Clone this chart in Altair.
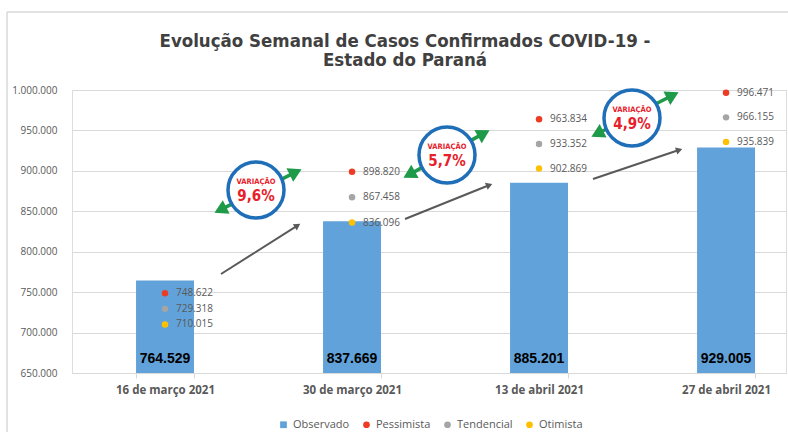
import math
import altair as alt
import pandas as pd

# ---------------- data ----------------
categories = ["16 de março 2021", "30 de março 2021", "13 de abril 2021", "27 de abril 2021"]
observado = [764529, 837669, 885201, 929005]
pessimista = [748622, 898820, 963834, 996471]
tendencial = [729318, 867458, 933352, 966155]
otimista = [710015, 836096, 902869, 935839]
variacao = ["9,6%", "5,7%", "4,9%"]
series_names = ["Observado", "Pessimista", "Tendencial", "Otimista"]
series_colors = ["#62A2DA", "#EE3B24", "#A5A5A5", "#FFC000"]
series_shapes = ["square", "circle", "circle", "circle"]
y_ticks = [650000, 700000, 750000, 800000, 850000, 900000, 950000, 1000000]


def fmt(v):
    return f"{v:,}".replace(",", ".")


bars_df = pd.DataFrame({
    "cat": categories,
    "value": observado,
    "serie": ["Observado"] * len(categories),
    "label": [fmt(v) for v in observado],
})
rows = []
for name, vals in [("Pessimista", pessimista), ("Tendencial", tendencial), ("Otimista", otimista)]:
    for c, v in zip(categories, vals):
        rows.append({"cat": c, "value": v, "serie": name, "label": fmt(v)})
pts_df = pd.DataFrame(rows)

# ---------------- layout ----------------
OX, OY = 72, 90          # plot origin in page pixels
W, H = 714, 283

x_enc = alt.X(
    "cat:N", sort=categories, title=None,
    scale=alt.Scale(paddingInner=0.69, paddingOuter=0.254, align=0.674),
    axis=alt.Axis(labelAngle=0, labelFont="Open Sans", labelFontWeight="bold",
                  labelFontSize=11.5, labelColor="#595959", domainColor="#D9D9D9",
                  tickColor="#D9D9D9", tickSize=5, tickBand="extent", labelPadding=6,
                  grid=False),
)
y_enc = alt.Y(
    "value:Q", title=None,
    scale=alt.Scale(domain=[650000, 1000000], zero=False, nice=False),
    axis=alt.Axis(values=y_ticks, grid=True, gridColor="#D9D9D9", domain=False,
                  ticks=False, labelFont="Open Sans", labelFontSize=10,
                  labelColor="#595959", labelPadding=15,
                  labelExpr="replace(format(datum.value, ',d'), regexp(',', 'g'), '.')"),
)


def legend():
    return alt.Legend(
        orient="none", legendX=206, legendY=329, direction="horizontal",
        symbolSize=45, labelFont="Open Sans", labelFontSize=11,
        labelColor="#595959", columnPadding=11, labelOffset=4, padding=0,
    )


color_enc = alt.Color(
    "serie:N", title=None,
    scale=alt.Scale(domain=series_names, range=series_colors),
    legend=legend(),
)
shape_enc = alt.Shape(
    "serie:N", title=None,
    scale=alt.Scale(domain=series_names, range=series_shapes),
    legend=legend(),
)

bars = alt.Chart(bars_df).mark_bar(opacity=1, clip=True).encode(
    x=x_enc, y=y_enc, y2=alt.datum(650000), color=color_enc)

bar_text = alt.Chart(bars_df).mark_text(
    font="Liberation Sans", fontWeight="bold", fontSize=14, color="#000000",
    baseline="alphabetic", dy=-10,
).encode(x=alt.X("cat:N", sort=categories), y=alt.datum(650000), text="label:N")

points = alt.Chart(pts_df).mark_point(filled=True, opacity=1, size=42).encode(
    x=alt.X("cat:N", sort=categories), y="value:Q", color=color_enc, shape=shape_enc)

point_text = alt.Chart(pts_df).mark_text(
    align="left", baseline="middle", dx=11, font="Open Sans", fontSize=10,
    color="#595959",
).encode(x=alt.X("cat:N", sort=categories), y="value:Q", text="label:N")

# ---------------- annotations (decorative, pixel positioned) ----------------
dummy = alt.Data(values=[{"k": 1}])
ann = []


def rule(x1, y1, x2, y2, color, width):
    return alt.Chart(dummy).mark_rule(color=color, strokeWidth=width).encode(
        x=alt.value(x1 - OX), y=alt.value(y1 - OY),
        x2=alt.value(x2 - OX), y2=alt.value(y2 - OY))


def head(x, y, ux, uy, color, size, r):
    ang = math.degrees(math.atan2(ux, -uy)) % 360
    cx, cy = x - ux * r, y - uy * r
    return alt.Chart(dummy).mark_point(
        shape="triangle", filled=True, color=color, opacity=1, size=size, angle=ang
    ).encode(x=alt.value(cx - OX), y=alt.value(cy - OY))


# chart frame
FRAME_TOP = 12
ann.append(rule(7, FRAME_TOP, 788, FRAME_TOP, "#D9D9D9", 1.5))
ann.append(rule(7, FRAME_TOP, 7, 432, "#D9D9D9", 1.5))

gray_arrows = [(221, 274, 300, 224), (405, 219, 492, 184), (593, 179, 682, 149)]
for (x1, y1, x2, y2) in gray_arrows:
    L = math.hypot(x2 - x1, y2 - y1)
    ux, uy = (x2 - x1) / L, (y2 - y1) / L
    ann.append(rule(x1, y1, x2 - ux * 4, y2 - uy * 4, "#595959", 2))
    ann.append(head(x2, y2, ux, uy, "#595959", 55, 4))

green_arrows = [(216, 212, 300, 170), (405, 177, 488, 131), (593, 136, 677, 93)]
for (x1, y1, x2, y2) in green_arrows:
    L = math.hypot(x2 - x1, y2 - y1)
    ux, uy = (x2 - x1) / L, (y2 - y1) / L
    ann.append(rule(x1 + ux * 7, y1 + uy * 7, x2 - ux * 7, y2 - uy * 7, "#1E9A48", 3.5))
    ann.append(head(x2, y2, ux, uy, "#1E9A48", 230, 7))
    ann.append(head(x1, y1, -ux, -uy, "#1E9A48", 230, 7))

circles = [(256, 190), (447, 155), (632, 118)]
for (cx, cy), txt in zip(circles, variacao):
    ann.append(alt.Chart(dummy).mark_point(
        shape="circle", filled=True, fill="white", stroke="#1F6EB8", strokeWidth=3.5,
        opacity=1, size=56 * 56).encode(x=alt.value(cx - OX), y=alt.value(cy - OY)))
    ann.append(alt.Chart(dummy).mark_text(
        text="VARIAÇÃO", font="DejaVu Sans Condensed, DejaVu Sans", fontWeight="bold",
        fontSize=7.5, color="#E8202A", baseline="middle", align="center",
    ).encode(x=alt.value(cx - OX), y=alt.value(cy - 8 - OY)))
    ann.append(alt.Chart(dummy).mark_text(
        text=txt, font="DejaVu Sans Condensed, DejaVu Sans", fontWeight="bold",
        fontSize=15, color="#E8202A", baseline="middle", align="center",
    ).encode(x=alt.value(cx - OX), y=alt.value(cy + 6 - OY)))

# title is laid out above the group's bounds, whose top is the frame line
title_offset = (FRAME_TOP - 0.75) - 69

chart = alt.layer(bars, bar_text, *ann, points, point_text).properties(
    width=W, height=H,
    autosize=alt.AutoSizeParams(type="none"),
    padding={"left": OX, "top": OY, "right": 788 - OX - W, "bottom": 432 - OY - H},
    title=alt.Title(
        ["Evolução Semanal de Casos Confirmados COVID-19 -", "Estado do Paraná"],
        font="DejaVu Sans Condensed, DejaVu Sans", fontSize=18.5, fontWeight="bold",
        color="#404040", anchor="middle", frame="group", dx=-24, offset=title_offset,
        lineHeight=19,
    ),
).configure_view(stroke=None).configure(background="white")

chart.save("out.html", embed_options={"renderer": "svg", "actions": False})
